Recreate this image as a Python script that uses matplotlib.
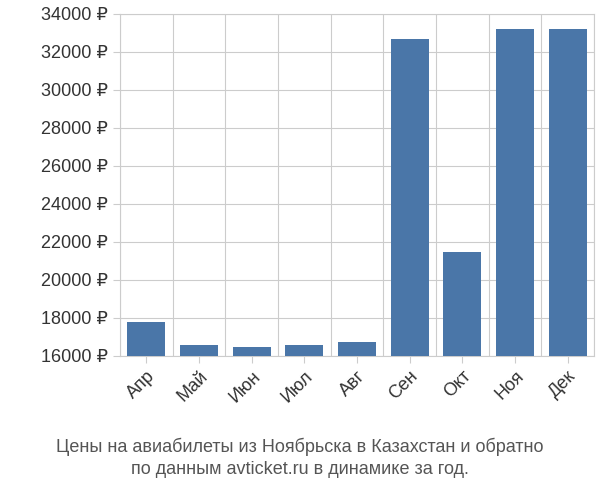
import numpy as np
import matplotlib.pyplot as plt

plt.rcParams['font.family'] = ['Liberation Sans', 'DejaVu Sans']

months = ["Апр", "Май", "Июн", "Июл", "Авг", "Сен", "Окт", "Ноя", "Дек"]
prices = [17800, 16600, 16500, 16600, 16750, 32700, 21500, 33200, 33200]
yticks = list(range(16000, 34001, 2000))

fig = plt.figure(figsize=(6, 5), dpi=100)
ax = fig.add_axes([0.2, 0.288, 0.79, 0.684])
x = np.arange(len(months))
ax.bar(x, [p - 16000 for p in prices], bottom=16000, width=0.72, color="#4a76a8", zorder=3)

ax.set_xlim(-0.5, len(months) - 0.5)
ax.set_ylim(16000, 34000)
ax.set_yticks(yticks)
ax.set_yticklabels([f"{v} ₽" for v in yticks], fontsize=13, color="#333333")
ax.set_xticks(x)
ax.set_xticklabels(months, rotation=45, ha="right", rotation_mode="anchor", fontsize=13, color="#333333")
ax.set_xticks(np.arange(-0.5, len(months)), minor=True)
ax.tick_params(axis="x", which="minor", length=0)
ax.tick_params(axis="both", which="major", length=5, color="#cccccc")
ax.grid(axis="y", color="#cccccc", zorder=0)
ax.grid(axis="x", which="minor", color="#cccccc", zorder=0)
for s in ax.spines.values():
    s.set_color("#cccccc")

fig.text(0.5, 0.085, "Цены на авиабилеты из Ноябрьска в Казахстан и обратно\nпо данным avticket.ru в динамике за год.",
         ha="center", va="center", fontsize=13, color="#555555", linespacing=1.4)

fig.savefig("out.png")
